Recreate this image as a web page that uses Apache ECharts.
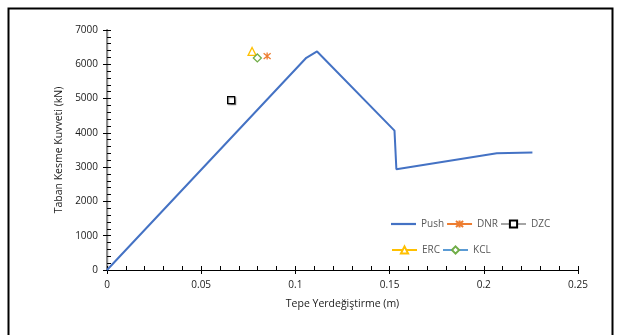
<!DOCTYPE html>
<html>
<head>
<meta charset="utf-8">
<script src="https://cdn.jsdelivr.net/npm/echarts@6/dist/echarts.min.js"></script>
<style>
  html, body { margin: 0; padding: 0; background: #fff; }
  #chart { width: 621px; height: 335px; }
</style>
</head>
<body>
<div id="chart"></div>
<script>
// Pushover curve: top displacement (m) vs base shear (kN)
const pushDisp  = [0, 0.1058, 0.1115, 0.1526, 0.1536, 0.2069, 0.2258];
const pushShear = [0, 6190, 6375, 4065, 2940, 3405, 3425];

// Single performance points
const pointNames = ['DNR', 'DZC', 'ERC', 'KCL'];
const pointDisp  = [0.0850, 0.0659, 0.0770, 0.0798];
const pointShear = [6240, 4955, 6375, 6185];

const xTicks = [0, 0.05, 0.1, 0.15, 0.2, 0.25];
const yTicks = [0, 1000, 2000, 3000, 4000, 5000, 6000, 7000];

const FONT = '"Open Sans", "Noto Sans", sans-serif';
const chart = echarts.init(document.getElementById('chart'), null, { renderer: 'canvas' });

const asterisk = 'path://M0,0L10,10M10,0L0,10M5,-1L5,11';

const pointStyles = {
  DNR: { line: '#ED7D31', symbol: asterisk, size: 7, fill: 'rgba(0,0,0,0)', border: '#ED7D31' },
  DZC: { line: '#A5A5A5', symbol: 'rect', size: 7, fill: '#ffffff', border: '#000000', shadow: true },
  ERC: { line: '#FFC000', symbol: 'triangle', size: 8, fill: '#ffffff', border: '#FFC000' },
  KCL: { line: '#5B9BD5', symbol: 'diamond', size: 8, fill: '#ffffff', border: '#70AD47' }
};

const series = [{
  name: 'Push',
  type: 'line',
  symbol: 'none',
  data: pushDisp.map((d, i) => [d, pushShear[i]]),
  lineStyle: { color: '#4472C4', width: 2 },
  itemStyle: { color: '#4472C4' },
  z: 3
}];
pointNames.forEach((n, i) => {
  const s = pointStyles[n];
  const itemStyle = { color: s.fill, borderColor: s.border, borderWidth: 1.3 };
  if (s.shadow) {
    Object.assign(itemStyle, { shadowColor: 'rgba(0,0,0,0.35)', shadowOffsetX: 1, shadowOffsetY: 1, shadowBlur: 1 });
  }
  series.push({
    name: n,
    type: 'line',
    data: [[pointDisp[i], pointShear[i]]],
    symbol: s.symbol,
    symbolSize: s.size,
    showSymbol: true,
    lineStyle: { color: s.line, width: 2 },
    itemStyle: itemStyle,
    z: 4
  });
});

const axisLabelStyle = { color: '#1a1a1a', fontSize: 10, fontFamily: FONT };
const legendCommon = {
  orient: 'horizontal',
  itemWidth: 25,
  itemHeight: 9,
  itemGap: 2,
  textStyle: { color: '#595959', fontSize: 10, fontFamily: FONT, width: 30 }
};
// plain line icon for the curve entry
const lineIcon = 'path://M0,0L25,0L25,2.2L0,2.2Z';

chart.setOption({
  animation: false,
  backgroundColor: '#fff',
  grid: { left: 107, right: 43, top: 30, bottom: 65 },
  legend: [
    Object.assign({ data: [{ name: 'Push', icon: lineIcon }, 'DNR', 'DZC'], left: 386, top: 214 }, legendCommon),
    Object.assign({ data: ['ERC', 'KCL'], left: 386, top: 240 }, legendCommon)
  ],
  xAxis: [{
    type: 'value', min: 0, max: 0.25, interval: 0.05,
    name: 'Tepe Yerdeğiştirme (m)', nameLocation: 'middle', nameGap: 29,
    nameTextStyle: { color: '#1a1a1a', fontSize: 10.5, fontFamily: FONT },
    axisLine: { show: true, lineStyle: { color: '#000', width: 1.2 } },
    axisTick: { show: true, inside: true, length: 4, lineStyle: { color: '#000' } },
    minorTick: { show: true, splitNumber: 5, length: 4, lineStyle: { color: '#000' } },
    axisLabel: Object.assign({ margin: 10, formatter: v => xTicks.includes(+v.toFixed(2)) ? String(+v.toFixed(2)) : '' }, axisLabelStyle),
    splitLine: { show: false }
  }, {
    type: 'value', min: 0, max: 0.25, interval: 0.05, position: 'bottom',
    axisLine: { show: false },
    axisTick: { show: true, inside: false, length: 4, lineStyle: { color: '#000' } },
    axisLabel: { show: false }, splitLine: { show: false }
  }, {
    type: 'value', min: 0, max: 0.25, interval: 0.05, position: 'top',
    axisLine: { show: true, lineStyle: { color: '#000', width: 1.2 } },
    axisTick: { show: false }, axisLabel: { show: false }, splitLine: { show: false }
  }],
  yAxis: [{
    type: 'value', min: 0, max: 7000, interval: 1000,
    name: 'Taban Kesme Kuvveti (kN)', nameLocation: 'middle', nameGap: 34,
    nameTextStyle: { color: '#1a1a1a', fontSize: 10.5, fontFamily: FONT },
    axisLine: { show: true, lineStyle: { color: '#000', width: 1.2 } },
    axisTick: { show: true, inside: true, length: 4, lineStyle: { color: '#000' } },
    minorTick: { show: true, splitNumber: 5, length: 4, lineStyle: { color: '#000' } },
    axisLabel: Object.assign({ margin: 9, formatter: v => yTicks.includes(v) ? String(v) : '' }, axisLabelStyle),
    splitLine: { show: false }
  }, {
    type: 'value', min: 0, max: 7000, interval: 1000, position: 'left',
    axisLine: { show: false },
    axisTick: { show: true, inside: false, length: 4, lineStyle: { color: '#000' } },
    axisLabel: { show: false }, splitLine: { show: false }
  }, {
    type: 'value', min: 0, max: 7000, interval: 1000, position: 'right',
    axisLine: { show: true, lineStyle: { color: '#8c8c8c', width: 2 } },
    axisTick: { show: false }, axisLabel: { show: false }, splitLine: { show: false }
  }],
  graphic: [{
    type: 'rect',
    shape: { x: 8.5, y: 8.5, width: 604, height: 340 },
    style: { fill: 'none', stroke: '#000', lineWidth: 2 },
    silent: true
  }],
  series: series
});
</script>
</body>
</html>
